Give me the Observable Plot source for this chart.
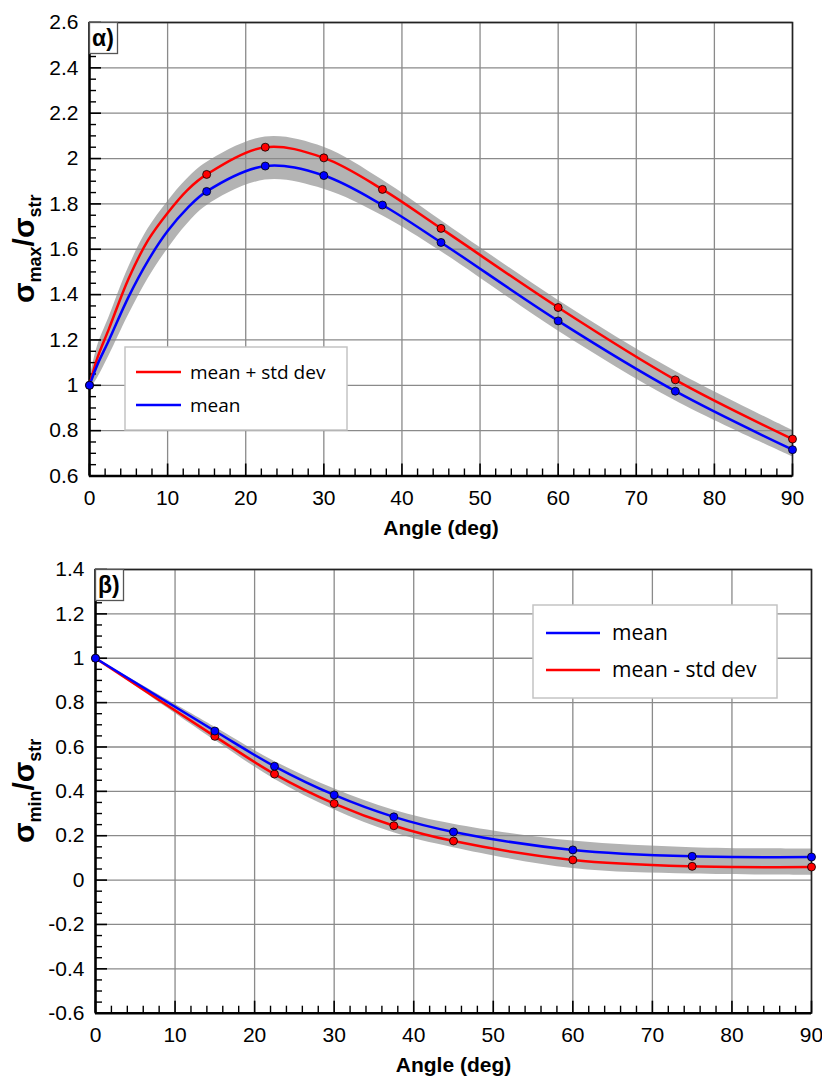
<!DOCTYPE html>
<html><head><meta charset="utf-8">
<script src="https://cdn.jsdelivr.net/npm/d3@7"></script>
<script src="https://cdn.jsdelivr.net/npm/@observablehq/plot@0.6"></script>
<style>
body{margin:0;background:#fff}
#c{position:relative;width:822px;height:1079px;overflow:hidden}
#c svg{position:absolute;left:0;overflow:visible}
</style>
</head><body><div id="c"></div>
<script>
// ---------- data ----------
// measured angles (markers)
const angles = [0, 15, 22.5, 30, 37.5, 45, 60, 75, 90];

// panel α : sigma_max / sigma_str  (markers)
const maxMean        = [1.0, 1.855, 1.967, 1.925, 1.795, 1.630, 1.284, 0.974, 0.716];
const maxMeanPlusStd = [1.0, 1.930, 2.050, 2.003, 1.864, 1.692, 1.343, 1.024, 0.763];
// panel α : fitted curves
const curveAnglesA      = [0, 1, 2.5, 5, 7.5, 10, 12.5, 15, 22.5, 30, 37.5, 45, 60, 75, 90];
const maxMeanCurve      = [1.0, 1.09, 1.20, 1.39, 1.55, 1.68, 1.78, 1.855, 1.967, 1.925, 1.795, 1.630, 1.284, 0.974, 0.716];
const maxPlusStdCurve   = [1.0, 1.12, 1.25, 1.47, 1.64, 1.76, 1.86, 1.930, 2.050, 2.003, 1.864, 1.692, 1.343, 1.024, 0.763];
const maxBandHi         = [1.02, 1.17, 1.30, 1.52, 1.69, 1.81, 1.91, 1.983, 2.095, 2.050, 1.905, 1.727, 1.375, 1.062, 0.802];
const maxBandLo         = [0.98, 1.03, 1.13, 1.31, 1.47, 1.60, 1.71, 1.792, 1.905, 1.865, 1.748, 1.590, 1.240, 0.932, 0.685];

// panel β : sigma_min / sigma_str (markers and curves)
const minMean         = [1.0, 0.672, 0.513, 0.384, 0.285, 0.217, 0.136, 0.107, 0.104];
const minMeanMinusStd = [1.0, 0.648, 0.478, 0.345, 0.245, 0.176, 0.091, 0.062, 0.059];
const minBandHi       = [1.0, 0.690, 0.535, 0.412, 0.315, 0.252, 0.176, 0.146, 0.140];
const minBandLo       = [1.0, 0.630, 0.455, 0.317, 0.213, 0.146, 0.052, 0.027, 0.022];

const xTicks  = [0, 10, 20, 30, 40, 50, 60, 70, 80, 90];
const yTicksA = [0.6, 0.8, 1.0, 1.2, 1.4, 1.6, 1.8, 2.0, 2.2, 2.4, 2.6];
const yTicksB = [-0.6, -0.4, -0.2, 0, 0.2, 0.4, 0.6, 0.8, 1.0, 1.2, 1.4];

const xLabel = "Angle (deg)";
const fmt = d => String(Math.round(d * 10) / 10);
const FONT = "Liberation Sans, Arial, sans-serif";

function build(o) {
  const pts = angles.map((a, i) => ({a, m: o.mean[i], s: o.std[i]}));
  const crv = o.cx.map((a, i) => ({a, m: o.cm[i], s: o.cs[i], hi: o.hi[i], lo: o.lo[i]}));
  const innerW = 822 - o.ml - o.mr;
  const innerH = o.h - o.mt - o.mb;
  const [y0, y1] = o.yDomain;
  const xMinor = d3.range(0, 90.001, 2).filter(v => v % 10 !== 0);
  const yMinor = d3.range(Math.round(y0 * 100), Math.round(y1 * 100) + 1, 5).map(v => v / 100).filter(v => Math.abs(Math.round(v * 100) % 20) !== 0);
  const C = "catmull-rom";
  const svg = Plot.plot({
    width: 822, height: o.h,
    marginLeft: o.ml, marginRight: o.mr, marginTop: o.mt, marginBottom: o.mb,
    style: {fontFamily: FONT, background: "transparent", overflow: "visible"},
    x: {domain: [0, 90]},
    y: {domain: o.yDomain},
    marks: [
      Plot.areaY(crv, {x: "a", y1: "lo", y2: "hi", curve: C, fill: "#b3b3b3"}),
      Plot.ruleX(xTicks, {stroke: "#8a8a8a", strokeWidth: 1.3}),
      Plot.ruleY(o.yTicks, {stroke: "#8a8a8a", strokeWidth: 1.3}),
      Plot.frame({stroke: "#222", strokeWidth: 1.6}),
      Plot.tickY(o.yTicks, {y: d => d, insetRight: innerW - 12, stroke: "#000", strokeWidth: 1.6}),
      Plot.tickY(yMinor, {y: d => d, insetRight: innerW - 7, stroke: "#000", strokeWidth: 1.4}),
      Plot.tickX(xTicks, {x: d => d, insetTop: innerH - 12, stroke: "#000", strokeWidth: 1.6}),
      Plot.tickX(xMinor, {x: d => d, insetTop: innerH - 7, stroke: "#000", strokeWidth: 1.4}),
      Plot.ruleX([0], {stroke: "#000", strokeWidth: 2.4}),
      Plot.ruleY([y0], {stroke: "#000", strokeWidth: 2.4}),
      Plot.lineY(crv, {x: "a", y: o.firstKey, curve: C, stroke: o.firstColor, strokeWidth: 2.5}),
      Plot.lineY(crv, {x: "a", y: o.secondKey, curve: C, stroke: o.secondColor, strokeWidth: 2.5}),
      Plot.dot(pts, {x: "a", y: o.firstKey, r: 4, fill: o.firstColor, stroke: "#000", strokeWidth: 0.8}),
      Plot.dot(pts, {x: "a", y: o.secondKey, r: 4, fill: o.secondColor, stroke: "#000", strokeWidth: 0.8}),
      Plot.axisY(o.yTicks, {tickSize: 0, tickPadding: 11, fontSize: 21, tickFormat: fmt, label: null, fill: "#000"}),
      Plot.axisX(xTicks, {tickSize: 0, tickPadding: 14, fontSize: 21, tickFormat: fmt, label: null, fill: "#000"}),
      Plot.text([xLabel], {frameAnchor: "bottom", dy: 59, fontSize: 21, fontWeight: "bold", fill: "#000"})
    ]
  });
  const s = d3.select(svg);
  // panel tag
  s.append("rect").attr("x", o.ml + 0.5).attr("y", o.mt + 0.5).attr("width", 28).attr("height", 31)
    .attr("fill", "#fff").attr("stroke", "#555").attr("stroke-width", 1.3);
  s.append("text").attr("x", o.ml + 3).attr("y", o.mt + 24).attr("font-family", FONT).attr("text-anchor", "start")
    .style("font-size", "23px").attr("font-weight", "bold").attr("fill", "#000").text(o.tag);
  // y title with subscripts
  const yt = s.append("text").attr("transform", `translate(34,${o.mt + innerH / 2}) rotate(-90)`)
    .attr("text-anchor", "middle").attr("font-family", FONT).attr("font-weight", "bold").attr("fill", "#000");
  yt.append("tspan").style("font-size", "30px").text("σ");
  yt.append("tspan").style("font-size", "18px").attr("dy", 7).text(o.sub1);
  yt.append("tspan").style("font-size", "30px").attr("dy", -7).text("/σ");
  yt.append("tspan").style("font-size", "18px").attr("dy", 7).text("str");
  // legend
  const L = o.legend;
  s.append("rect").attr("x", L.x).attr("y", L.y).attr("width", L.w).attr("height", L.h)
    .attr("fill", "#fff").attr("stroke", "#c4c4c4").attr("stroke-width", 1.5);
  L.items.forEach((it, i) => {
    const yy = L.y + L.first + i * L.step;
    s.append("line").attr("x1", L.x + L.lx).attr("x2", L.x + L.lx + L.lw).attr("y1", yy).attr("y2", yy)
      .attr("stroke", it.color).attr("stroke-width", 2.5);
    s.append("text").attr("x", L.x + L.tx).attr("y", yy).attr("dy", "0.35em").attr("text-anchor", "start")
      .attr("font-family", "Open Sans, sans-serif").style("font-size", L.fs + "px").attr("fill", "#000").text(it.label);
  });
  return svg;
}

const container = document.getElementById("c");

const svgA = build({
  h: 540, mt: 22, mb: 64.5, ml: 89, mr: 30,
  yDomain: [0.6, 2.6], yTicks: yTicksA,
  mean: maxMean, std: maxMeanPlusStd,
  cx: curveAnglesA, cm: maxMeanCurve, cs: maxPlusStdCurve, hi: maxBandHi, lo: maxBandLo,
  firstKey: "s", firstColor: "#ff0000", secondKey: "m", secondColor: "#0000ff",
  tag: "α)", sub1: "max",
  legend: {x: 125, y: 347, w: 222, h: 83, first: 25, step: 33, lx: 11, lw: 45, tx: 65, fs: 19,
    items: [{label: "mean + std dev", color: "#ff0000"}, {label: "mean", color: "#0000ff"}]}
});
svgA.style.top = "0px";
container.appendChild(svgA);

const svgB = build({
  h: 539, mt: 29, mb: 66.3, ml: 95, mr: 11,
  yDomain: [-0.6, 1.4], yTicks: yTicksB,
  mean: minMean, std: minMeanMinusStd,
  cx: angles, cm: minMean, cs: minMeanMinusStd, hi: minBandHi, lo: minBandLo,
  firstKey: "s", firstColor: "#ff0000", secondKey: "m", secondColor: "#0000ff",
  tag: "β)", sub1: "min",
  legend: {x: 533, y: 65, w: 244, h: 93, first: 28, step: 37, lx: 13, lw: 54, tx: 79, fs: 21,
    items: [{label: "mean", color: "#0000ff"}, {label: "mean - std dev", color: "#ff0000"}]}
});
svgB.style.top = "540px";
container.appendChild(svgB);
</script>
</body></html>
